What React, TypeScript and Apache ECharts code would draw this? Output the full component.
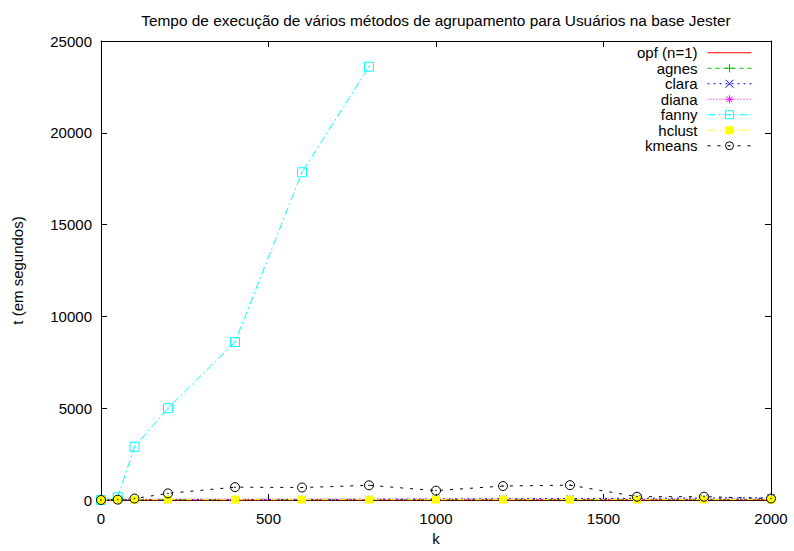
import React, { useEffect, useRef } from "react";
import * as echarts from "echarts";

// number of clusters (k) used in each run
const kValues = [0, 50, 100, 200, 400, 600, 800, 1000, 1200, 1400, 1600, 1800, 2000];

// execution times in seconds, one entry per k value
const opfTimes = [0, 1, 1, 2, 3, 4, 6, 7, 8, 10, 11, 12, 14];
const agnesTimes = [0, 28, 29, 30, 31, 33, 32, 34, 35, 35, 36, 37, 38];
const claraTimes = [0, 3, 5, 9, 18, 30, 42, 55, 68, 80, 92, 105, 118];
const dianaTimes = [0, 45, 45, 46, 46, 47, 47, 48, 48, 49, 49, 50, 50];
const fannyTimes = [0, 150, 2900, 5000, 8600, 17850, 23600]; // stops at k = 800
const hclustTimes = [0, 20, 20, 21, 21, 21, 22, 22, 22, 23, 23, 23, 24];
const kmeansTimes = [0, 20, 80, 360, 700, 680, 800, 510, 760, 810, 180, 180, 80];

const xTicks = { min: 0, max: 2000, interval: 500 };
const yTicks = { min: 0, max: 25000, interval: 5000 };

const FONT = "Liberation Sans";
const FS = 15;

const pair = (ys: number[]) => ys.map((y, i) => [kValues[i], y]);

const PLUS = "path://M5,0L5,10M0,5L10,5";
const CROSS = "path://M0,0L10,10M10,0L0,10";
const STAR = "path://M5,0L5,10M0,5L10,5M1.5,1.5L8.5,8.5M8.5,1.5L1.5,8.5";
const BOX_DOT = "path://M0,0L10,0L10,10L0,10Z M4.6,4.6L5.4,4.6L5.4,5.4L4.6,5.4Z";
const RING_DOT =
  "path://M0,5A5,5 0 1 1 10,5A5,5 0 1 1 0,5Z M4.6,5A0.4,0.4 0 1 1 5.4,5A0.4,0.4 0 1 1 4.6,5Z";

function strokedSeries(
  name: string,
  ys: number[],
  color: string,
  dash: number[] | "solid",
  symbol: string,
  size: number
) {
  return {
    name,
    type: "line",
    data: pair(ys),
    symbol,
    symbolSize: size,
    showAllSymbol: true,
    clip: false,
    lineStyle: { color, width: 1, type: dash },
    itemStyle: { color: "transparent", borderColor: color, borderWidth: 1 },
    emphasis: { disabled: true },
  };
}

export default function App() {
  const ref = useRef<HTMLDivElement>(null);

  useEffect(() => {
    if (!ref.current) return;
    const chart = echarts.init(ref.current, undefined, { renderer: "svg" });

    const axisCommon = {
      type: "value",
      axisLine: { show: true, onZero: false, lineStyle: { color: "#000", width: 1 } },
      axisTick: { show: true, inside: true, length: 6, lineStyle: { color: "#000" } },
      splitLine: { show: false },
    };
    const plain = (v: number) => String(v);

    const names = ["opf (n=1)", "agnes", "clara", "diana", "fanny", "hclust", "kmeans"];

    chart.setOption({
      animation: false,
      backgroundColor: "#fff",
      textStyle: { fontFamily: FONT },
      title: {
        text: "Tempo de execução de vários métodos de agrupamento para Usuários na base Jester",
        left: 431,
        textAlign: "center",
        top: 8,
        textStyle: { fontFamily: FONT, fontSize: 15.4, fontWeight: "normal", color: "#000" },
      },
      legend: {
        orient: "vertical",
        align: "right",
        right: 37,
        top: 40,
        padding: 5,
        itemWidth: 44,
        itemHeight: 10,
        itemGap: 0,
        selectedMode: false,
        lineStyle: { width: 1 },
        itemStyle: { borderWidth: 1 },
        data: names.map((n) =>
          n === "opf (n=1)" ? { name: n, itemStyle: { opacity: 0 } } : { name: n }
        ),
        textStyle: {
          fontFamily: FONT,
          fontSize: FS,
          lineHeight: 15.5,
          color: "#000",
          padding: [0, 5, 0, 0],
        },
      },
      grid: { left: 101, right: 23, top: 41, bottom: 50, containLabel: false },
      xAxis: [
        {
          ...axisCommon,
          ...xTicks,
          position: "bottom",
          name: "k",
          nameLocation: "middle",
          nameGap: 31,
          nameTextStyle: { fontFamily: FONT, fontSize: FS, color: "#000" },
          axisLabel: { fontFamily: FONT, fontSize: FS, color: "#000", margin: 11, formatter: plain },
        },
        {
          ...axisCommon,
          ...xTicks,
          position: "top",
          axisLabel: { show: false },
        },
      ],
      yAxis: [
        {
          ...axisCommon,
          ...yTicks,
          position: "left",
          name: "t (em segundos)",
          nameLocation: "middle",
          nameGap: 76,
          nameTextStyle: { fontFamily: FONT, fontSize: FS, color: "#000" },
          axisLabel: { fontFamily: FONT, fontSize: FS, color: "#000", margin: 9, formatter: plain },
        },
        {
          ...axisCommon,
          ...yTicks,
          position: "right",
          axisLabel: { show: false },
        },
      ],
      series: [
        {
          name: "opf (n=1)",
          type: "line",
          data: pair(opfTimes),
          symbol: "none",
          clip: false,
          lineStyle: { color: "#ff0000", width: 1, type: "solid" },
          itemStyle: { color: "#ff0000" },
          emphasis: { disabled: true },
        },
        strokedSeries("agnes", agnesTimes, "#00c000", [4, 4], PLUS, 7),
        strokedSeries("clara", claraTimes, "#0000ff", [2, 4], CROSS, 7),
        strokedSeries("diana", dianaTimes, "#ff00ff", [1, 2], STAR, 7),
        strokedSeries("fanny", fannyTimes, "#00ffff", [8, 3, 2, 3], BOX_DOT, 9),
        {
          name: "hclust",
          type: "line",
          data: pair(hclustTimes),
          symbol: "rect",
          symbolSize: 8,
          showAllSymbol: true,
          clip: false,
          lineStyle: { color: "#ffff00", width: 1, type: [6, 3, 1, 3, 1, 3] },
          itemStyle: { color: "#ffff00" },
          emphasis: { disabled: true },
        },
        strokedSeries("kmeans", kmeansTimes, "#000000", [3, 7], RING_DOT, 9),
      ],
    });

    return () => chart.dispose();
  }, []);

  return (
    <div
      ref={ref}
      style={{ position: "fixed", left: 0, top: 0, width: 794, height: 551, background: "#fff" }}
    />
  );
}
